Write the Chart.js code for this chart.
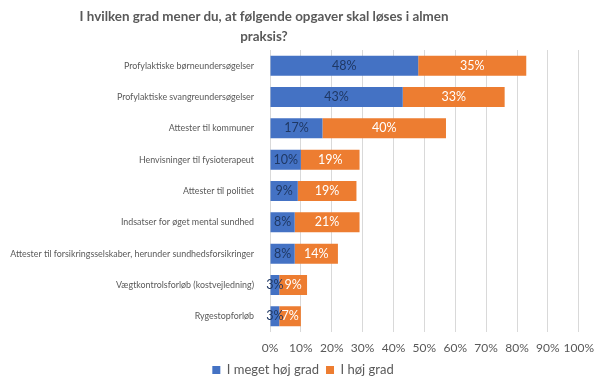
<!DOCTYPE html>
<html>
<head>
<meta charset="utf-8">
<script src="https://cdn.jsdelivr.net/npm/chart.js@4/dist/chart.umd.min.js"></script>
<style>
    body { margin: 0; background: #fff; }
    #wrap { position: relative; width: 600px; height: 382px; }
    #title {
        position: absolute; left: 0; top: 6px; width: 528px;
        text-align: center; font-family: Lato, sans-serif; font-weight: bold;
        font-size: 13.4px; line-height: 20px; color: #595959;
    }
</style>
</head>
<body>
<div id="wrap">
    <canvas id="chart"></canvas>
    <div id="title">I hvilken grad mener du, at følgende opgaver skal løses i almen<br>praksis?</div>
</div>
<script>
const categories = [
    "Profylaktiske børneundersøgelser",
    "Profylaktiske svangreundersøgelser",
    "Attester til kommuner",
    "Henvisninger til fysioterapeut",
    "Attester til politiet",
    "Indsatser for øget mental sundhed",
    "Attester til forsikringsselskaber, herunder sundhedsforsikringer",
    "Vægtkontrolsforløb (kostvejledning)",
    "Rygestopforløb"
];
const meGetHoej = [48, 43, 17, 10, 9, 8, 8, 3, 3];
const hoej = [35, 33, 40, 19, 19, 21, 14, 9, 7];
const xTicks = [0, 10, 20, 30, 40, 50, 60, 70, 80, 90, 100];

const textGray = '#595959';
const font = "Lato, sans-serif";

// draws the % value centred in each bar segment
const barLabels = {
    id: 'barLabels',
    afterDatasetsDraw(chart) {
        const ctx = chart.ctx;
        ctx.save();
        ctx.font = `12.5px ${font}`;
        ctx.textAlign = 'center';
        ctx.textBaseline = 'middle';
        chart.data.datasets.forEach((ds, i) => {
            const meta = chart.getDatasetMeta(i);
            ctx.fillStyle = i === 0 ? '#1f3864' : '#ffffff';
            meta.data.forEach((bar, j) => {
                const x = (bar.x + bar.base) / 2;
                ctx.fillText(ds.data[j] + '%', x, bar.y);
            });
        });
        ctx.restore();
    }
};

// legend sits a bit right of and below where chart.js puts it
const nudgeLegend = {
    id: 'nudgeLegend',
    afterLayout(chart) {
        const lg = chart.legend;
        lg.left += 9;
        lg.right += 9;
        lg.top += 4.5;
        lg.bottom += 4.5;
    }
};

new Chart(document.getElementById('chart'), {
    type: 'bar',
    data: {
        labels: categories,
        datasets: [
            { label: 'I meget høj grad', data: meGetHoej, backgroundColor: '#4472c4', barPercentage: 0.64, categoryPercentage: 1 },
            { label: 'I høj grad', data: hoej, backgroundColor: '#ed7d31', barPercentage: 0.64, categoryPercentage: 1 }
        ]
    },
    options: {
        indexAxis: 'y',
        responsive: true,
        maintainAspectRatio: false,
        animation: false,
        layout: { padding: { top: 50, right: 20, left: 8, bottom: 0 } },
        scales: {
            x: {
                stacked: true,
                min: 0,
                max: 100,
                afterBuildTicks(axis) { axis.ticks = xTicks.map(v => ({ value: v })); },
                afterFit(axis) { axis.height = 20; },
                ticks: { color: textGray, font: { family: font, size: 12, lineHeight: 1.75 }, padding: 6, maxRotation: 0, autoSkip: false, callback: v => v + '%' },
                grid: { color: '#d9d9d9', drawTicks: false },
                border: { display: false }
            },
            y: {
                stacked: true,
                afterFit(axis) { axis.width = 262; },
                ticks: { color: textGray, font: { family: font, size: 8.9 }, padding: 8 },
                grid: { display: false },
                border: { display: false }
            }
        },
        plugins: {
            legend: {
                position: 'bottom',
                labels: { color: textGray, font: { family: font, size: 13 }, boxWidth: 8, boxHeight: 8, padding: 7 }
            },
            tooltip: { enabled: false }
        }
    },
    plugins: [barLabels, nudgeLegend]
});
</script>
</body>
</html>
